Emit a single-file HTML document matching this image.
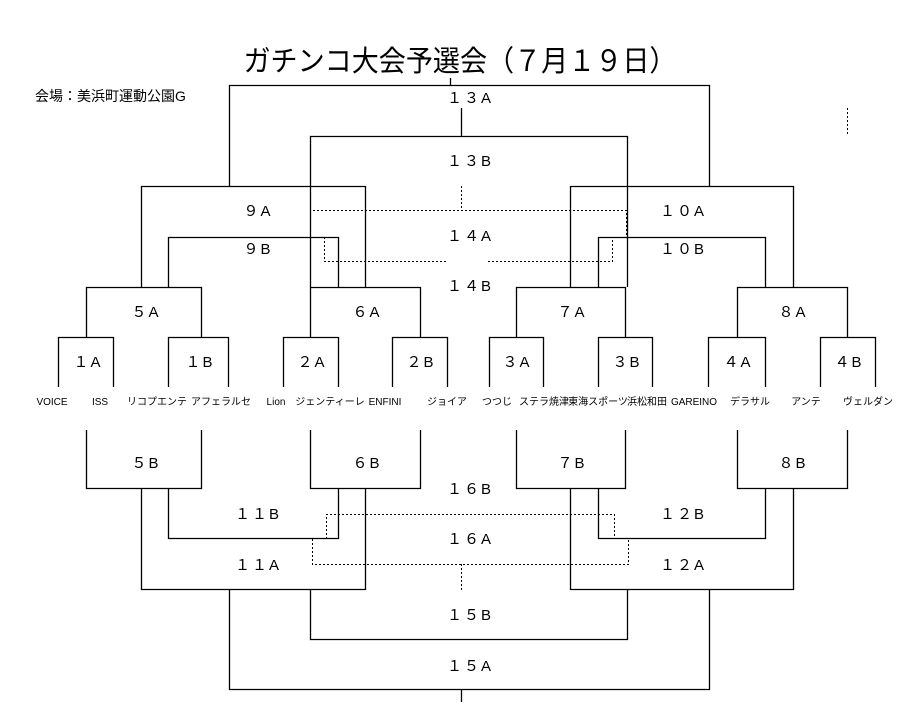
<!DOCTYPE html>
<html><head><meta charset="utf-8"><style>
html,body{margin:0;padding:0;background:#fff}
svg{display:block}
text{font-family:"Liberation Sans","Noto Sans CJK JP",sans-serif;fill:#000}
.l{font-size:15px;letter-spacing:2px}
.t{font-size:10px}
</style></head><body>
<svg width="901" height="722" viewBox="0 0 901 722" xmlns="http://www.w3.org/2000/svg">
<g fill="none" stroke="#000" stroke-width="1.3">
<!-- top -->
<path d="M229.5 186V85.5H709.5V186"/>
<path d="M450.5 78V85"/>
<path d="M461.5 108V136"/>
<path d="M310.5 287V136.5H627.5V287"/>
<path d="M141.5 287V186.5H365.5V287"/>
<path d="M168.5 287V237.5H338.5V287"/>
<path d="M570.5 287V186.5H793.5V287"/>
<path d="M598.5 287V237.5H765.5V287"/>
<path d="M86.5 337V287.5H201.5V337"/>
<path d="M310.5 337V287.5H420.5V337"/>
<path d="M516.5 337V287.5H625.5V337"/>
<path d="M737.5 337V287.5H847.5V337"/>
<path d="M58.5 387V337.5H113.5V387"/>
<path d="M168.5 387V337.5H228.5V387"/>
<path d="M283.5 387V337.5H338.5V387"/>
<path d="M392.5 387V337.5H447.5V387"/>
<path d="M489.5 387V337.5H543.5V387"/>
<path d="M598.5 387V337.5H652.5V387"/>
<path d="M708.5 387V337.5H765.5V387"/>
<path d="M820.5 387V337.5H875.5V387"/>
<!-- bottom -->
<path d="M86.5 430V488.5H201.5V430"/>
<path d="M310.5 430V488.5H420.5V430"/>
<path d="M516.5 430V488.5H625.5V430"/>
<path d="M737.5 430V488.5H847.5V430"/>
<path d="M168.5 489V538.5H338.5V489"/>
<path d="M141.5 489V589.5H365.5V489"/>
<path d="M598.5 489V538.5H765.5V489"/>
<path d="M570.5 489V589.5H793.5V489"/>
<path d="M310.5 590V639.5H627.5V590"/>
<path d="M229.5 590V689.5H709.5V590"/>
<path d="M461.5 690V702"/>
</g>
<g fill="none" stroke="#000" stroke-width="1" stroke-dasharray="2,2">
<path d="M310.5 236V210.5H626.5V236"/>
<path d="M324.5 237V261.5H448"/>
<path d="M488 261.5H612.5V237"/>
<path d="M461.5 186V209"/>
<path d="M847.5 108V134"/>
<path d="M326.5 539V514.5H614.5V539"/>
<path d="M312.5 539V564.5H628.5V539"/>
<path d="M461.5 564V590"/>
</g>
<text x="460" y="71" font-size="29" text-anchor="middle" textLength="433" lengthAdjust="spacingAndGlyphs">ガチンコ大会予選会（７月１９日）</text>
<text x="35" y="101" font-size="14">会場：美浜町運動公園G</text>
<g class="l" text-anchor="middle">
<text x="470" y="103">１３A</text>
<text x="470" y="166">１３B</text>
<text x="258" y="216">９A</text>
<text x="258" y="254">９B</text>
<text x="470" y="241">１４A</text>
<text x="470" y="291">１４B</text>
<text x="683" y="216">１０A</text>
<text x="683" y="254">１０B</text>
<text x="146" y="317">５A</text>
<text x="367" y="317">６A</text>
<text x="572" y="317">７A</text>
<text x="793" y="317">８A</text>
<text x="88" y="367">１A</text>
<text x="200" y="367">１B</text>
<text x="312" y="367">２A</text>
<text x="421" y="367">２B</text>
<text x="517" y="367">３A</text>
<text x="627" y="367">３B</text>
<text x="738" y="367">４A</text>
<text x="849" y="367">４B</text>
<text x="146" y="468">５B</text>
<text x="367" y="468">６B</text>
<text x="572" y="468">７B</text>
<text x="793" y="468">８B</text>
<text x="470" y="494">１６B</text>
<text x="258" y="519">１１B</text>
<text x="683" y="519">１２B</text>
<text x="470" y="544">１６A</text>
<text x="258" y="570">１１A</text>
<text x="683" y="570">１２A</text>
<text x="470" y="620">１５B</text>
<text x="470" y="671">１５A</text>
</g>
<g class="t" text-anchor="middle">
<text x="52" y="405">VOICE</text>
<text x="100" y="405">ISS</text>
<text x="157" y="405">リコプエンテ</text>
<text x="221" y="405">アフェラルセ</text>
<text x="276" y="405">Lion</text>
<text x="330" y="405">ジェンティーレ</text>
<text x="385" y="405">ENFINI</text>
<text x="447" y="405">ジョイア</text>
<text x="497" y="405">つつじ</text>
<text x="544" y="405">ステラ焼津</text>
<text x="598" y="405">東海スポーツ</text>
<text x="647" y="405">浜松和田</text>
<text x="694" y="405">GAREINO</text>
<text x="750" y="405">デラサル</text>
<text x="806" y="405">アンテ</text>
<text x="868" y="405">ヴェルダン</text>
</g>
</svg>
</body></html>
